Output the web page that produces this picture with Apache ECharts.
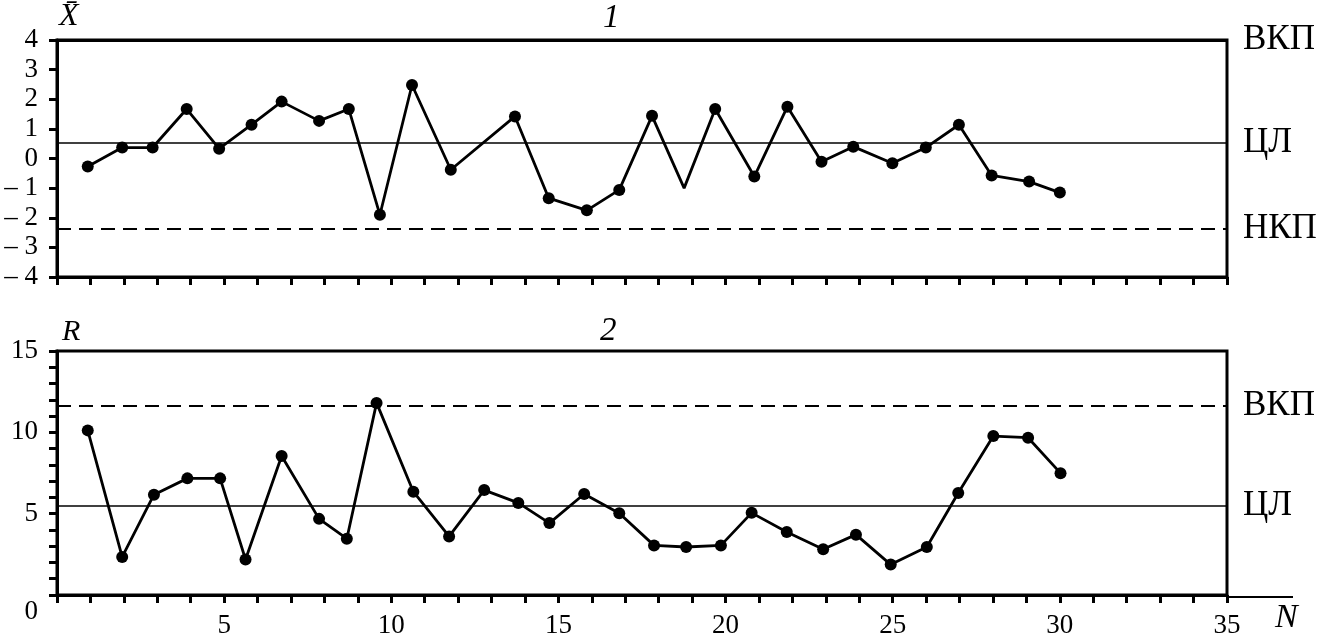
<!DOCTYPE html>
<html><head><meta charset="utf-8">
<script src="https://cdn.jsdelivr.net/npm/echarts@6/dist/echarts.min.js"></script>
<style>html,body{margin:0;padding:0;background:#fff}#c{width:1322px;height:639px}</style>
</head><body><div id="c"></div>
<script>
// Sample numbers (points sit slightly off the integer ticks in the original)
const topN = [0.92,1.95,2.86,3.88,4.85,5.82,6.72,7.84,8.73,9.66,10.62,11.78,13,13.70,14.71,15.85,16.82,17.80,18.76,19.69,20.86,21.85,22.87,23.82,24.99,25.99,26.98,27.96,29.08,30.00];
const topXbar = [-0.27,0.37,0.37,1.67,0.33,1.14,1.92,1.27,1.67,-1.90,2.48,-0.38,null,1.42,-1.34,-1.75,-1.06,1.44,-1.0,1.67,-0.61,1.75,-0.11,0.40,-0.16,0.37,1.14,-0.57,-0.78,-1.15];
const botN = [0.92,1.95,2.90,3.90,4.88,5.64,6.72,7.84,8.67,9.56,10.66,11.73,12.78,13.80,14.73,15.77,16.82,17.86,18.82,19.86,20.78,21.83,22.92,23.90,24.94,26.02,26.96,28.01,29.05,30.02];
const botR = [10.12,2.34,6.17,7.17,7.17,2.18,8.55,4.68,3.46,11.81,6.35,3.60,6.45,5.66,4.42,6.21,5.03,3.05,2.95,3.05,5.05,3.87,2.81,3.71,1.87,2.95,6.27,9.77,9.67,7.49];
const xbarLimitNames = ['ВКП','ЦЛ','НКП'];
const xbarLimitValues = [4, 0.52, -2.37];
const rLimitNames = ['ВКП','ЦЛ'];
const rLimitValues = [11.65, 5.5];
const xTickLabels = [5,10,15,20,25,30,35];

const FONT = '"Liberation Serif", "Times New Roman", Times, serif';
const chart = echarts.init(document.getElementById('c'), null, {renderer:'canvas'});

const limitStyle = (name) => name === 'ЦЛ'
  ? {type:'solid', width:1.5, color:'#000'}
  : {type:[14,8], width:2, color:'#000'};

function limitLines(names, values){
  return names.map((n,i) => {
    let ls = limitStyle(n);
    if (n === 'ВКП' && values[i] === 4) ls = {type:'solid', width:3, color:'#000'};
    return {name:n, yAxis:values[i], lineStyle:ls};
  });
}

const NO_DOT_N = 19;
const topData = topN.map((x,i) => {
  const item = {value:[x, topXbar[i] === null ? '-' : topXbar[i]]};
  if (i + 1 === NO_DOT_N) item.symbol = 'none';
  return item;
});
const botData = botN.map((x,i) => [x, botR[i]]);

function xAxisBase(gi){
  return {
    type:'value', gridIndex:gi, min:0, max:35, interval:1,
    axisLine:{show:true, onZero:false, lineStyle:{color:'#000', width:3}},
    axisTick:{show:true, inside:false, length:8, lineStyle:{color:'#000', width:3}},
    splitLine:{show:false}
  };
}
const labelStyle = {fontFamily:FONT, fontSize:27, color:'#000'};
const markLabel = {show:true, position:'end', distance:16, formatter:'{b}', fontFamily:FONT, fontSize:35, color:'#000'};
const titleStyle = (size) => ({fontFamily:FONT, fontStyle:'italic', fontWeight:'normal', fontSize:size, color:'#000'});

chart.setOption({
  backgroundColor:'#fff',
  animation:false,
  grid:[
    {left:57, top:40, width:1170, height:237, show:true, borderColor:'#000', borderWidth:3, backgroundColor:'transparent'},
    {left:57, top:351, width:1170, height:246, show:true, borderColor:'#000', borderWidth:3, backgroundColor:'transparent'}
  ],
  title:[
    {text:'X\u0304', left:59, top:1, padding:0, textStyle:titleStyle(32)},
    {text:'1', left:603, top:2, padding:0, textStyle:titleStyle(33)},
    {text:'R', left:62, top:317, padding:0, textStyle:titleStyle(30)},
    {text:'2', left:600, top:315, padding:0, textStyle:titleStyle(33)}
  ],
  xAxis:[
    Object.assign(xAxisBase(0), {axisLabel:{show:false}}),
    Object.assign(xAxisBase(1), {
      axisLabel:Object.assign({show:true, margin:17, formatter:(v)=> xTickLabels.indexOf(v) >= 0 ? String(v) : ''}, labelStyle),
      name:'N', nameLocation:'end', nameGap:48,
      nameTextStyle:{fontFamily:FONT, fontStyle:'italic', fontSize:34, color:'#000', verticalAlign:'top', padding:[6,0,0,0]}
    })
  ],
  yAxis:[
    {type:'value', gridIndex:0, min:-4, max:4, interval:1,
     axisLine:{show:true, onZero:false, lineStyle:{color:'#000', width:3}},
     axisTick:{show:true, inside:false, length:8, lineStyle:{color:'#000', width:3}},
     splitLine:{show:false},
     axisLabel:Object.assign({margin:19, formatter:(v)=> v < 0 ? '\u2013 ' + Math.abs(v) : String(v)}, labelStyle)},
    {type:'value', gridIndex:1, min:0, max:15, interval:1,
     axisLine:{show:true, onZero:false, lineStyle:{color:'#000', width:3}},
     axisTick:{show:true, inside:false, length:8, lineStyle:{color:'#000', width:3}},
     splitLine:{show:false},
     axisLabel:Object.assign({margin:19, lineHeight:34, formatter:(v)=> v === 0 ? '\n0' : (v % 5 === 0 ? String(v) : '')}, labelStyle)}
  ],
  series:[
    {type:'line', xAxisIndex:0, yAxisIndex:0, data:topData, connectNulls:true,
     symbol:'circle', symbolSize:12, itemStyle:{color:'#000'}, lineStyle:{color:'#000', width:2.8},
     markLine:{silent:true, symbol:['none','none'], label:markLabel, data:limitLines(xbarLimitNames, xbarLimitValues)}},
    {type:'line', xAxisIndex:1, yAxisIndex:1, data:botData,
     symbol:'circle', symbolSize:12, itemStyle:{color:'#000'}, lineStyle:{color:'#000', width:2.8},
     markLine:{silent:true, symbol:['none','none'], label:markLabel, data:limitLines(rLimitNames, rLimitValues)}}
  ],
  graphic:[
    {type:'line', shape:{x1:1227, y1:597, x2:1293, y2:597}, style:{stroke:'#000', lineWidth:2}}
  ]
});
</script>
</body></html>
